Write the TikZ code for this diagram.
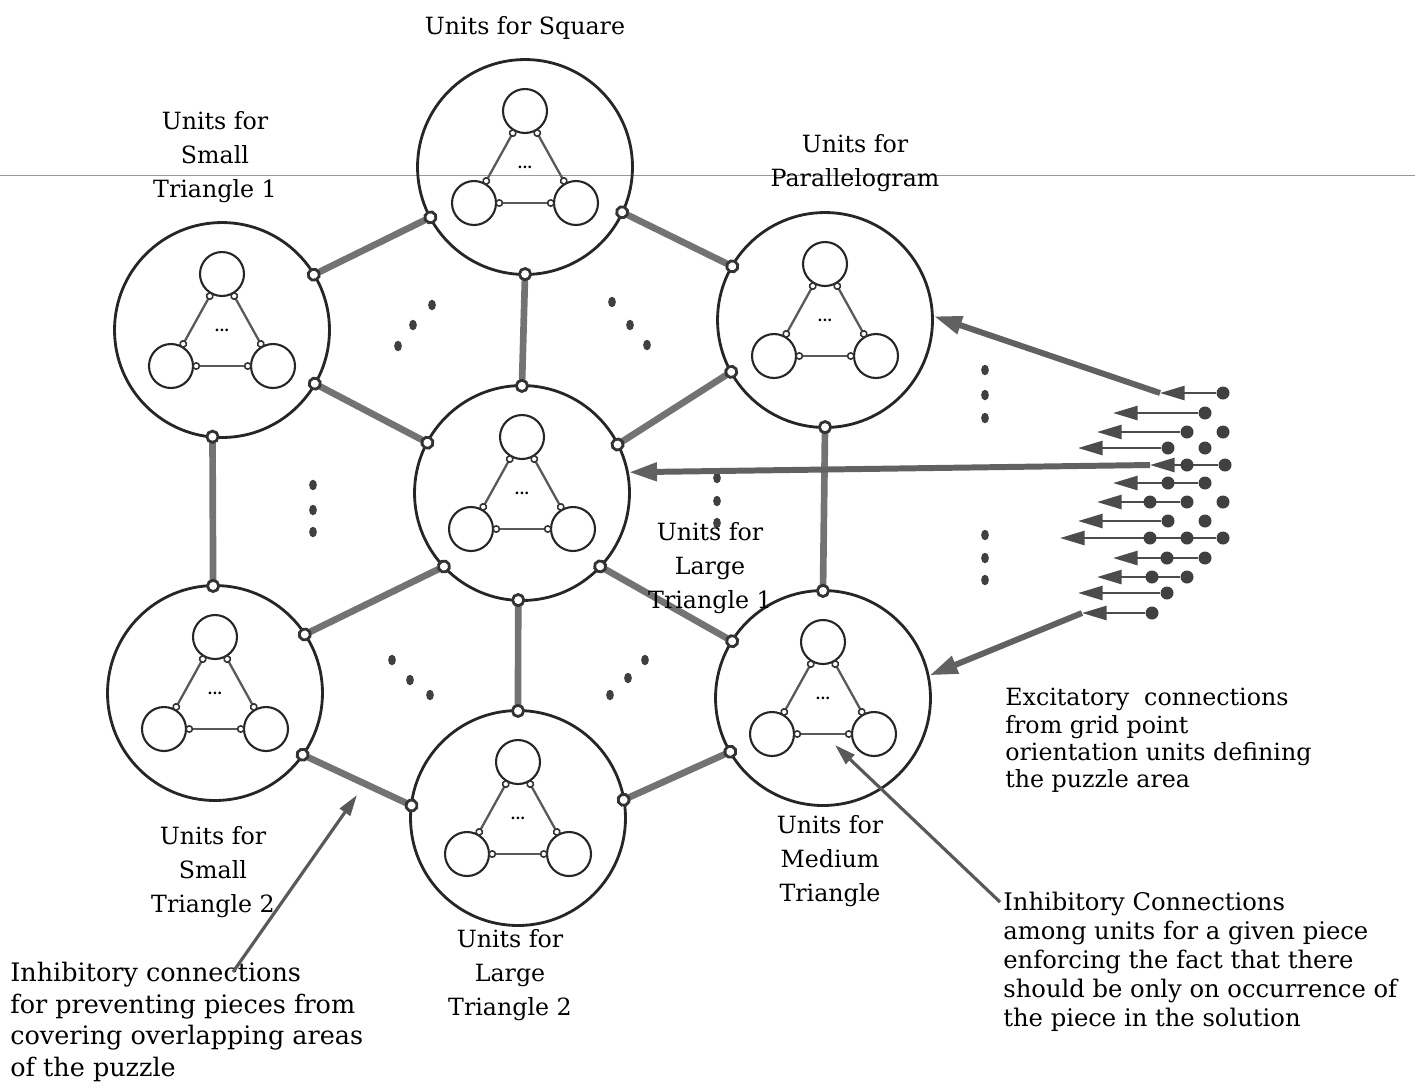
\documentclass[tikz,border=0pt]{standalone}
\usepackage{fontspec}
\setmainfont{DejaVu Serif}
\usetikzlibrary{arrows.meta}

\begin{document}
\begin{tikzpicture}[x=0.02cm, y=-0.02cm]
    % Styles
    \tikzset{
      pcircle/.style={circle, draw=black!85, line width=1.6pt, minimum size=4.3cm, inner sep=0pt},
      ucircle/.style={circle, draw=black!85, line width=1.2pt, minimum size=0.88cm, inner sep=0pt},
      ulink/.style={draw=black!65, line width=1.3pt, shorten <=-1pt, shorten >=-1pt,
        {Circle[length=4.5pt, line width=0.9pt, fill=white, color=black!80]}-{Circle[length=4.5pt, line width=0.9pt, fill=white, color=black!80]}},
      plink/.style={draw=black!55, line width=3.8pt, shorten <=-5pt, shorten >=-5pt,
        {Circle[length=8pt, line width=1.6pt, fill=white, color=black!80]}-{Circle[length=8pt, line width=1.6pt, fill=white, color=black!80]}},
      excite/.style={draw=black!70, line width=1.4pt, -{Triangle[length=14pt, width=8pt]}},
      feed/.style={draw=black!62, line width=3.4pt, -{Triangle[length=16pt, width=10pt]}},
      notearrow/.style={draw=black!65, line width=1.8pt, -{Triangle[length=12pt, width=7pt]}},
      gdot/.style={circle, fill=black!75, minimum size=0.26cm, inner sep=0pt},
      lbl/.style={align=center, font=\fontsize{13.5}{19.5}\selectfont, inner sep=0pt},
      note/.style={align=left, anchor=north west, inner sep=0pt}
    }
    \useasboundingbox (0,0) rectangle (1415,1090);

    % scan line
    \draw[black!40, line width=0.5pt] (0,175) -- (1415,175);

    % Pieces
    \foreach \n/\x/\y in {sq/525/167, st1/222/330, para/825/320, lt1/522/493, st2/215/693, lt2/518/818, med/823/698} {
      \node[pcircle] (\n) at (\x,\y) {};
      \node[ucircle] (\n-t) at (\x,\y-56) {};
      \node[ucircle] (\n-l) at (\x-51,\y+36) {};
      \node[ucircle] (\n-r) at (\x+51,\y+36) {};
      \node[font=\footnotesize\bfseries, inner sep=0pt] (\n-d) at (\x,\y) {...};
      \draw[ulink] (\n-t) -- (\n-l);
      \draw[ulink] (\n-t) -- (\n-r);
      \draw[ulink] (\n-l) -- (\n-r);
    }

    % Inhibitory links between pieces
    \draw[plink] (sq.208) -- (st1.31);
    \draw[plink] (sq.335) -- (para.150);
    \draw[plink] (sq.270) -- (lt1.90);
    \draw[plink] (st1.330) -- (lt1.152);
    \draw[plink] (para.209) -- (lt1.27);
    \draw[plink] (st1.265) -- (st2.91);
    \draw[plink] (para.270) -- (med.90);
    \draw[plink] (lt1.223) -- (st2.33);
    \draw[plink] (lt1.317) -- (med.148);
    \draw[plink] (lt1.268) -- (lt2.90);
    \draw[plink] (st2.325) -- (lt2.173);
    \draw[plink] (lt2.10) -- (med.210);

    % Dots
    \foreach \x/\y in {398/346, 413/325, 432/305, 612/302, 630/325, 647/345,
                       313/485, 313/510, 313/532, 717/478, 717/501, 717/523,
                       392/660, 410/680, 430/695, 610/695, 628/678, 645/660,
                       985/370, 985/395, 985/418, 985/535, 985/558, 985/580}
      \fill[black!75] (\x,\y) ellipse (2.2pt and 3pt);

    % Grid point orientation units
    \foreach \r/\y/\tx/\dx in {1/393/1160/1223, 2/413/1113/1205, 3/432/1097/1187,
                               4/448/1078/1168, 5/465/1150/1225, 6/483/1113/1205,
                               7/502/1097/1187, 8/521/1078/1168, 9/538/1060/1223,
                               10/558/1113/1205, 11/577/1097/1187, 12/593/1078/1167,
                               13/613/1082/1152} {
      \node[gdot] (g\r) at (\dx,\y) {};
      \coordinate (h\r) at (\tx,\y);
      \draw[excite] (g\r) -- (h\r);
    }
    \foreach \x/\y [count=\k] in {1223/432, 1205/448, 1187/465, 1168/483, 1150/502, 1223/502,
                                  1205/521, 1150/538, 1187/538, 1167/558, 1152/577}
      \node[gdot] (e\k) at (\x,\y) {};

    \draw[feed] (h1) -- (para.2);
    \draw[feed] (h5) -- (lt1.11);
    \draw[feed] (h13) -- (med.12);

    % Labels
    \node[lbl] (sqlbl) at (525,28) {Units for Square};
    \node[lbl] (st1lbl) at (215,157) {Units for\\Small\\Triangle 1};
    \node[lbl] (paralbl) at (855,163) {Units for\\Parallelogram};
    \node[lbl] (lt1lbl) at (710,568) {Units for\\Large\\Triangle 1};
    \node[lbl] (st2lbl) at (213,872) {Units for\\Small\\Triangle 2};
    \node[lbl] (lt2lbl) at (510,975) {Units for\\Large\\Triangle 2};
    \node[lbl] (medlbl) at (830,861) {Units for\\Medium\\Triangle};

    \node[note, font=\fontsize{13.5}{15.5}\selectfont] (exclbl) at (1005,688)
      {Excitatory\ \ connections\\from grid point\\orientation units defining\\the puzzle area};
    \node[note, font=\fontsize{13.8}{16.4}\selectfont] (inhlbl) at (1003,892)
      {Inhibitory Connections\\among units for a given piece\\enforcing the fact that there\\should be only on occurrence of\\the piece in the solution};
    \node[note, font=\fontsize{14.5}{18}\selectfont] (ovlbl) at (10,962)
      {Inhibitory connections\\for preventing pieces from\\covering overlapping areas\\of the puzzle};

    % Annotation arrows
    \coordinate (ova) at (233,972);
    \coordinate (ovb) at (357,795);
    \draw[notearrow] (ova) -- (ovb);
    \coordinate (inha) at (1000,902);
    \coordinate (inhb) at (835,745);
    \draw[notearrow] (inha) -- (inhb);
\end{tikzpicture}
\end{document}
